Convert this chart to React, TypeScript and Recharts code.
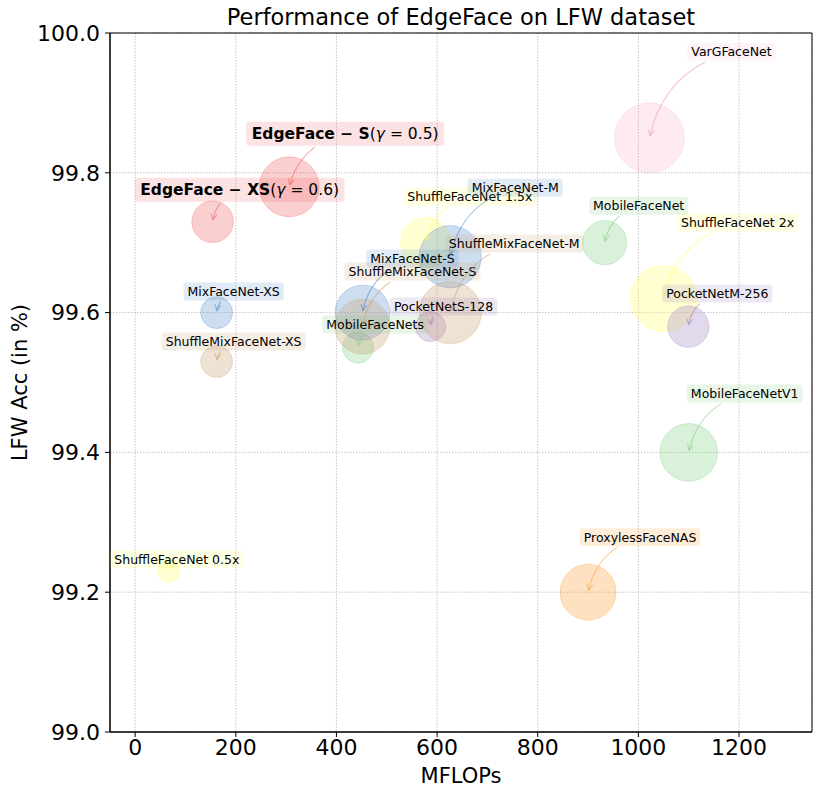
import { CartesianGrid, Label, ReferenceArea, Scatter, ScatterChart, XAxis, YAxis, ZAxis } from 'recharts'

const models = [
  'ShuffleFaceNet 0.5x', 'MixFaceNet-XS', 'ShuffleMixFaceNet-XS', 'MobileFaceNets', 'MixFaceNet-S',
  'ShuffleMixFaceNet-S', 'ShuffleFaceNet 1.5x', 'PocketNetS-128', 'MixFaceNet-M', 'ShuffleMixFaceNet-M',
  'ProxylessFaceNAS', 'MobileFaceNet', 'VarGFaceNet', 'ShuffleFaceNet 2x', 'PocketNetM-256',
  'MobileFaceNetV1', 'EdgeFace-XS', 'EdgeFace-S',
]
const mflops = [66.9, 161.9, 161.9, 443, 451.7, 451.7, 577.5, 587.1, 626.1, 626.1, 900, 933, 1022, 1050, 1099.2, 1100, 154, 306]
const accuracy = [99.23, 99.6, 99.53, 99.55, 99.6, 99.58, 99.7, 99.58, 99.68, 99.6, 99.2, 99.7, 99.85, 99.62, 99.58, 99.4, 99.73, 99.78]
const paramsM = [0.5, 1.04, 1.04, 0.99, 3.07, 3.07, 2.6, 0.92, 3.95, 3.95, 3.2, 2.0, 5.0, 4.5, 1.75, 3.4, 1.77, 3.65]
const families = [
  'shuffle', 'mix', 'smix', 'mobile', 'mix', 'smix', 'shuffle', 'pocket', 'mix', 'smix',
  'proxy', 'mobile', 'varg', 'shuffle', 'pocket', 'mobile', 'edge', 'edge',
]
const edgeGamma: Record<string, number> = { 'EdgeFace-XS': 0.6, 'EdgeFace-S': 0.5 }

const xTicks = [0, 200, 400, 600, 800, 1000, 1200]
const yTicks = [99.0, 99.2, 99.4, 99.6, 99.8, 100.0]
const X_DOMAIN: [number, number] = [-50, 1345]
const Y_DOMAIN: [number, number] = [99, 100]

const COLORS: Record<string, { c: string; op: number }> = {
  edge: { c: '#f06060', op: 0.3 },
  varg: { c: '#f48fb1', op: 0.18 },
  mix: { c: '#4a88cc', op: 0.28 },
  smix: { c: '#c8a070', op: 0.3 },
  shuffle: { c: '#ffff66', op: 0.3 },
  mobile: { c: '#80cc80', op: 0.3 },
  pocket: { c: '#a080c0', op: 0.3 },
  proxy: { c: '#fb9d2e', op: 0.3 },
}

// label centre relative to the bubble centre, px
const LABEL_OFFSET: Record<string, [number, number]> = {
  'EdgeFace-S': [56, -53],
  'EdgeFace-XS': [27, -32],
  VarGFaceNet: [82, -86],
  'ShuffleFaceNet 1.5x': [44, -46],
  'MixFaceNet-M': [65, -69],
  'ShuffleMixFaceNet-M': [64, -69],
  'MixFaceNet-S': [50, -54],
  'ShuffleMixFaceNet-S': [50, -55],
  'PocketNetS-128': [13, -20],
  MobileFaceNets: [17, -23],
  MobileFaceNet: [34, -37],
  'ShuffleFaceNet 2x': [74, -76],
  'PocketNetM-256': [29, -33],
  'MixFaceNet-XS': [17, -21],
  'ShuffleMixFaceNet-XS': [17, -20],
  MobileFaceNetV1: [56, -59],
  ProxylessFaceNAS: [52, -55],
  'ShuffleFaceNet 0.5x': [8, -12],
}

const rows = models.map((name, i) => ({
  name,
  mflops: mflops[i],
  acc: accuracy[i],
  params: paramsM[i],
  family: families[i],
}))

const FONT = 'DejaVu Sans'
const ctx = typeof document !== 'undefined' ? document.createElement('canvas').getContext('2d') : null
function textWidth(s: string, font: string) {
  if (!ctx) return s.length * 7
  ctx.font = font
  return ctx.measureText(s).width
}

function Bubble(p: any) {
  const col = COLORS[p.payload.family]
  const r = p.width ? p.width / 2 : Math.sqrt(p.size / Math.PI)
  return (
    <circle cx={p.cx} cy={p.cy} r={r} fill={col.c} fillOpacity={col.op} stroke={col.c} strokeOpacity={col.op} strokeWidth={1} />
  )
}

function Annotation(p: any) {
  const { cx, cy, payload } = p
  const col = COLORS[payload.family]
  const [ox, oy] = LABEL_OFFSET[payload.name]
  const lx = cx + ox
  const ly = cy + oy
  const isEdge = payload.family === 'edge'

  let w: number
  let h: number
  let padX: number
  let content: any
  if (isEdge) {
    const fs = 15.5
    const variant = payload.name.replace('EdgeFace-', '')
    const bold = `EdgeFace \u2212 ${variant}`
    const tail = ` = ${edgeGamma[payload.name]})`
    w =
      textWidth(bold, `bold ${fs}px ${FONT}`) +
      textWidth('(', `${fs}px ${FONT}`) +
      textWidth('\u03b3', `italic ${fs}px ${FONT}`) +
      textWidth(tail, `${fs}px ${FONT}`)
    h = 24
    padX = 5.5
    content = (
      <text x={lx} y={ly} textAnchor="middle" dominantBaseline="central" fontFamily={FONT} fontSize={fs} fill="#000">
        <tspan fontWeight="bold">{bold}</tspan>
        <tspan>(</tspan>
        <tspan fontStyle="italic">{'\u03b3'}</tspan>
        <tspan>{tail}</tspan>
      </text>
    )
  } else {
    const fs = 12.5
    w = textWidth(payload.name, `${fs}px ${FONT}`)
    h = 18
    padX = 4
    content = (
      <text x={lx} y={ly} textAnchor="middle" dominantBaseline="central" fontFamily={FONT} fontSize={fs} fill="#000">
        {payload.name}
      </text>
    )
  }
  const bx = lx - w / 2 - padX
  const by = ly - h / 2
  const bw = w + 2 * padX

  // arc3-like curved arrow from label centre to the point, clipped at the box
  const sx = lx
  const sy = ly
  const ex = cx
  const ey = cy
  const k = 0.3
  const qx = (sx + ex) / 2 - k * (ey - sy)
  const qy = (sy + ey) / 2 + k * (ex - sx)
  const at = (t: number) => [
    (1 - t) * (1 - t) * sx + 2 * t * (1 - t) * qx + t * t * ex,
    (1 - t) * (1 - t) * sy + 2 * t * (1 - t) * qy + t * t * ey,
  ]
  let t0 = 0
  for (let t = 0; t <= 1; t += 0.005) {
    const [x, y] = at(t)
    if (x < bx - 1 || x > bx + bw + 1 || y < by - 1 || y > by + h + 1) {
      t0 = t
      break
    }
  }
  const [ax, ay] = at(t0)
  const c2x = (1 - t0) * qx + t0 * ex
  const c2y = (1 - t0) * qy + t0 * ey
  let ux = ex - c2x
  let uy = ey - c2y
  const len = Math.hypot(ux, uy) || 1
  ux /= len
  uy /= len
  const tipX = ex - 2 * ux
  const tipY = ey - 2 * uy
  const hl = 6
  const hw = 3
  const l1 = [tipX - hl * ux + hw * -uy, tipY - hl * uy + hw * ux]
  const l2 = [tipX - hl * ux - hw * -uy, tipY - hl * uy - hw * ux]

  return (
    <g>
      <path d={`M${ax},${ay} Q${c2x},${c2y} ${tipX},${tipY}`} fill="none" stroke={col.c} strokeOpacity={0.55} strokeWidth={1.1} />
      <path d={`M${l1[0]},${l1[1]} L${tipX},${tipY} L${l2[0]},${l2[1]}`} fill="none" stroke={col.c} strokeOpacity={0.55} strokeWidth={1.1} />
      <rect x={bx} y={by} width={bw} height={h} rx={3} ry={3} fill={col.c} fillOpacity={col.op * 0.6} />
      {content}
    </g>
  )
}

const tickStyle = { fontSize: 22, fill: '#000', fontFamily: FONT }

export default function App() {
  return (
    <div style={{ position: 'absolute', left: 0, top: 0, background: '#fff' }}>
      <ScatterChart width={823} height={800} margin={{ top: 33, right: 11, bottom: 0, left: 0 }} style={{ fontFamily: FONT }}>
        <CartesianGrid stroke="#b8b8b8" strokeDasharray="1.5 1.5" strokeWidth={0.8} />
        <XAxis
          dataKey="mflops"
          type="number"
          domain={X_DOMAIN}
          ticks={xTicks}
          height={68}
          tick={tickStyle}
          tickSize={5}
          tickLine={{ stroke: '#000' }}
          axisLine={{ stroke: '#000' }}
          allowDataOverflow
        >
          <Label value="MFLOPs" position="insideBottom" offset={17} style={{ fontSize: 21, fill: '#000', fontFamily: FONT }} />
        </XAxis>
        <YAxis
          dataKey="acc"
          type="number"
          domain={Y_DOMAIN}
          ticks={yTicks}
          width={110}
          tick={tickStyle}
          tickSize={5}
          tickMargin={5}
          tickLine={{ stroke: '#000' }}
          axisLine={{ stroke: '#000' }}
          tickFormatter={(v: number) => v.toFixed(1)}
          allowDataOverflow
        >
          <Label
            content={(props: any) => {
              const vb = props.viewBox || { x: 0, y: 33, height: 699 }
              const y = vb.y + vb.height / 2
              return (
                <text x={20} y={y} transform={`rotate(-90, 20, ${y})`} textAnchor="middle" dominantBaseline="central" fontFamily={FONT} fontSize={21} fill="#000">
                  LFW Acc (in %)
                </text>
              )
            }}
          />
        </YAxis>
        <ZAxis dataKey="params" type="number" domain={[0, 5]} range={[0, 3850]} />
        <ReferenceArea
          x1={X_DOMAIN[0]}
          x2={X_DOMAIN[1]}
          y1={Y_DOMAIN[0]}
          y2={Y_DOMAIN[1]}
          fill="none"
          stroke="#000"
          strokeWidth={1}
          ifOverflow="visible"
        >
          <Label
            content={(props: any) => {
              const vb = props.viewBox || { x: 110, y: 33, width: 702 }
              return (
                <text x={vb.x + vb.width / 2} y={vb.y - 8} textAnchor="middle" fontFamily={FONT} fontSize={22.5} fill="#000">
                  Performance of EdgeFace on LFW dataset
                </text>
              )
            }}
          />
        </ReferenceArea>
        <Scatter data={rows} shape={Bubble} isAnimationActive={false} />
        <Scatter data={rows} shape={Annotation} isAnimationActive={false} />
      </ScatterChart>
    </div>
  )
}
